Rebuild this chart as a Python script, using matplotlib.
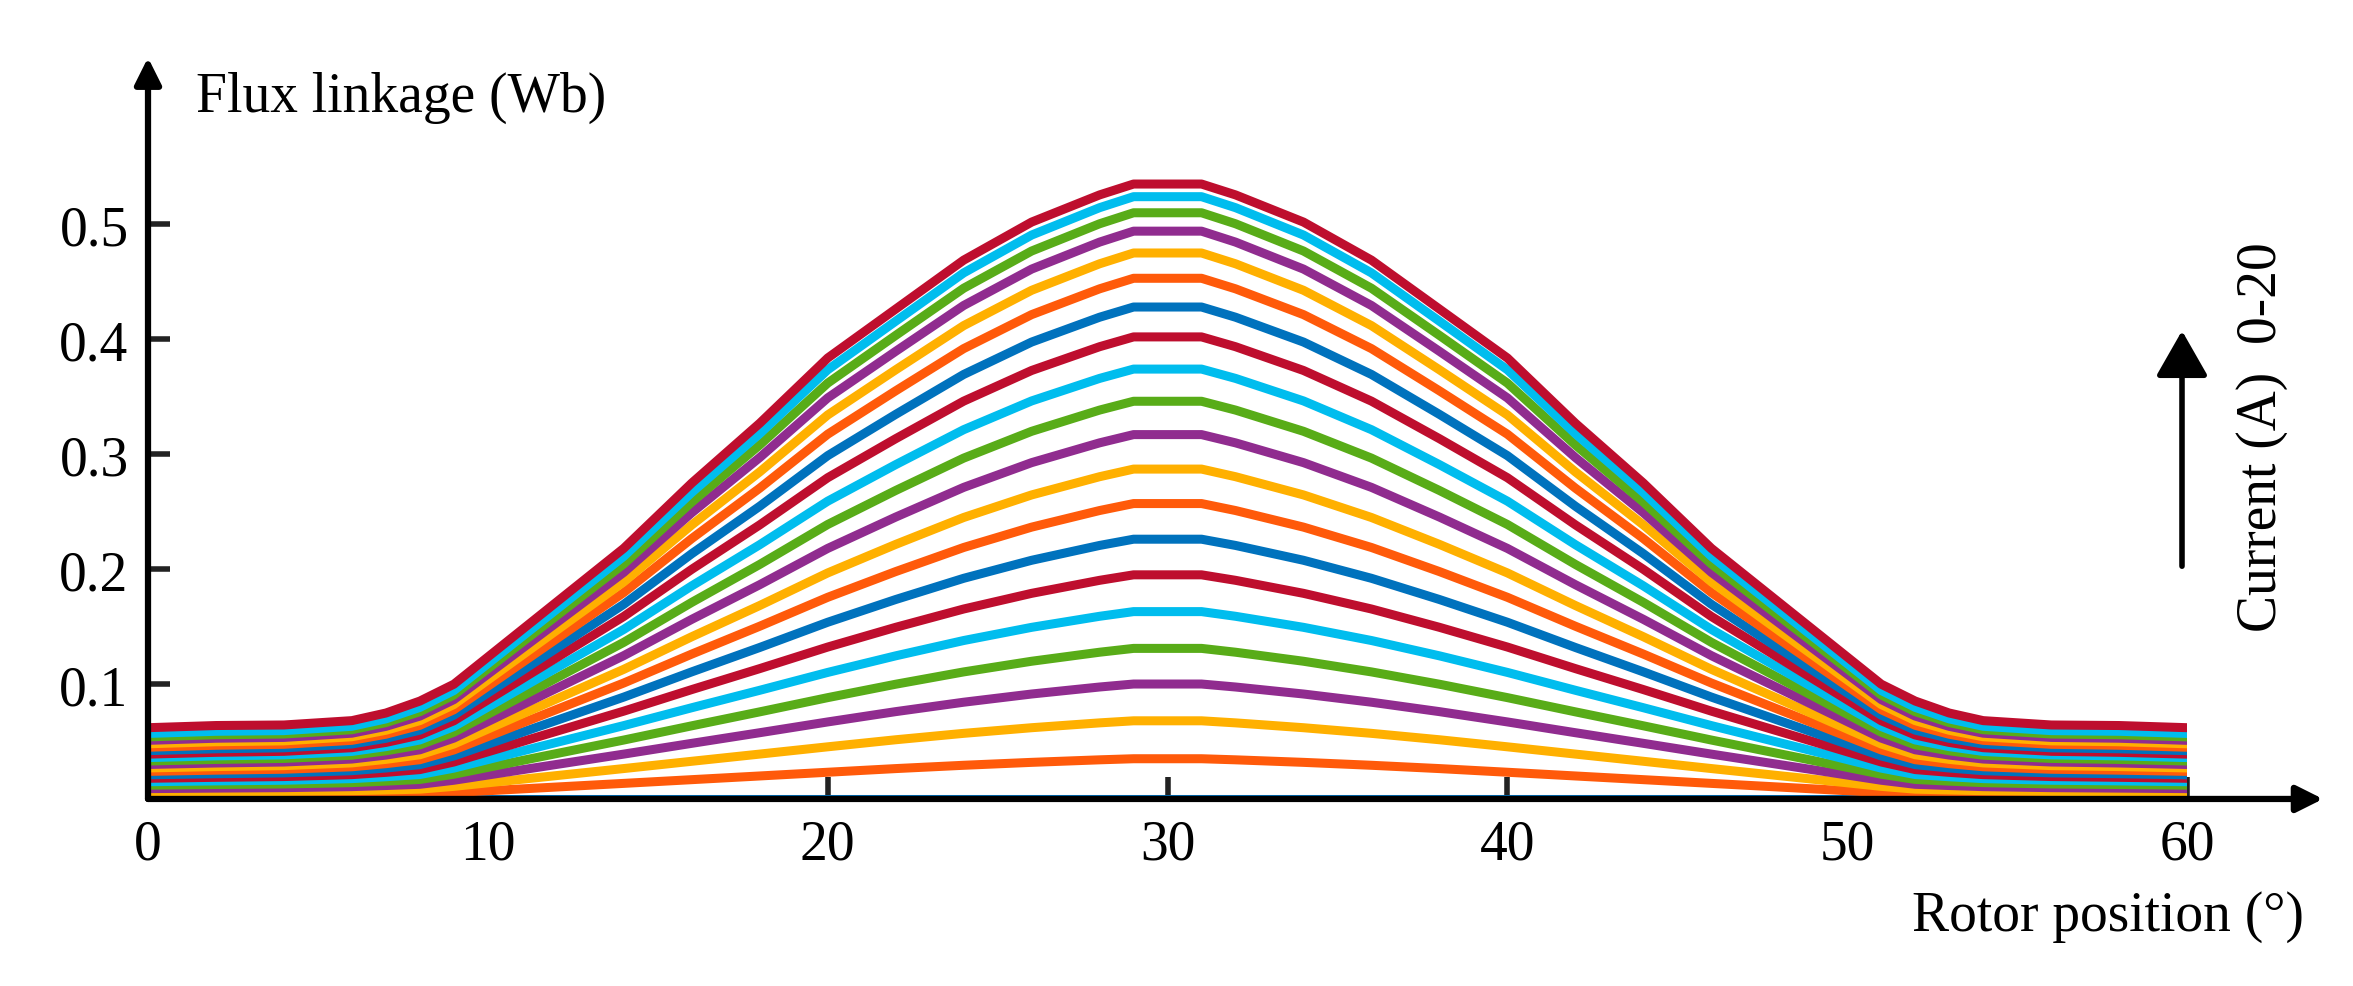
import numpy as np
import matplotlib
matplotlib.use("Agg")
import matplotlib.pyplot as plt

# currents 0..20 A
currents = list(range(21))
peak_vals = [0.0, 0.035, 0.068, 0.100, 0.131, 0.163, 0.195, 0.226, 0.257, 0.287, 0.317,
             0.346, 0.374, 0.402, 0.428, 0.453, 0.475, 0.494, 0.510, 0.524, 0.535]
base_vals = [0.0, 0.003, 0.006, 0.009, 0.012, 0.015, 0.018, 0.021, 0.024, 0.027, 0.030,
             0.033, 0.036, 0.039, 0.042, 0.045, 0.048, 0.051, 0.054, 0.057, 0.062]
# normalized shape (left half, mirrored about 30 deg)
theta_half = [0, 2, 4, 6, 7, 8, 9, 10, 12, 14, 16, 18, 20, 22, 24, 26, 28, 29, 30]
shape_low  = [0, 0.005, 0.01, 0.02, 0.03, 0.04, 0.08, 0.13, 0.23, 0.33, 0.43, 0.53, 0.63, 0.73, 0.82, 0.90, 0.97, 1.0, 1.0]
shape_high = [0, 0.004, 0.005, 0.013, 0.027, 0.049, 0.08, 0.13, 0.23, 0.33, 0.45, 0.56, 0.68, 0.77, 0.86, 0.93, 0.98, 1.0, 1.0]
colors = ["#0072BD", "#FF5A0A", "#FFB000", "#902C8F", "#58AC18", "#00BDEE", "#BE0E2E"]

th_h = np.array(theta_half, float)
theta = np.concatenate([th_h, 60 - th_h[::-1][1:]])
sl = np.array(shape_low); sh = np.array(shape_high)

fig = plt.figure(figsize=(23.53, 9.87), dpi=100)
ax = fig.add_axes([0.0629, 0.1895, 0.8666, 0.6405])
ax.set_xlim(0, 60)
ax.set_ylim(0, 0.55)
for i in currents:
    w = i / 20
    s = (1 - w) * sl + w * sh
    yh = base_vals[i] + (peak_vals[i] - base_vals[i]) * s
    y = np.concatenate([yh, yh[::-1][1:]])
    ax.plot(theta, y, color=colors[i % 7], lw=6.5, solid_capstyle="butt", zorder=2 + i * 0.01)

for sp in ax.spines.values():
    sp.set_visible(False)
font = dict(family="Liberation Serif", size=40)
ax.set_xticks([0, 10, 20, 30, 40, 50, 60])
ax.set_yticks([0.1, 0.2, 0.3, 0.4, 0.5])
ax.set_yticklabels(["0.1", "0.2", "0.3", "0.4", "0.5"], fontdict=font)
ax.set_xticklabels(["0", "10", "20", "30", "40", "50", "60"], fontdict=font)
ax.tick_params(direction="in", length=16, width=4, color="#222222", pad=14)
ax.annotate("", xy=(64.0, 0), xytext=(0, 0), xycoords="data", annotation_clip=False,
            arrowprops=dict(arrowstyle="-|>,head_length=1.6,head_width=0.8", lw=4.5, color="black", shrinkA=0, shrinkB=0), zorder=5)
ax.annotate("", xy=(0, 0.645), xytext=(0, 0), xycoords="data", annotation_clip=False,
            arrowprops=dict(arrowstyle="-|>,head_length=1.6,head_width=0.8", lw=4.5, color="black", shrinkA=0, shrinkB=0), zorder=5)
fig.text(196/2353, 1 - 98/987, "Flux linkage (Wb)", ha="left", va="center", **font)
fig.text(2304/2353, 1 - 917/987, "Rotor position (°)", ha="right", va="center", **font)
fig.text(2262/2353, 1 - 437/987, "Current (A)  0-20", ha="center", va="center", rotation=90, **font)
fig.add_artist(matplotlib.patches.FancyArrowPatch((2182/2353, 1 - 570/987), (2182/2353, 1 - 329/987),
               transform=fig.transFigure, arrowstyle="-|>,head_length=14,head_width=8", lw=4, color="black", mutation_scale=2))
fig.savefig("out.png", dpi=100)
